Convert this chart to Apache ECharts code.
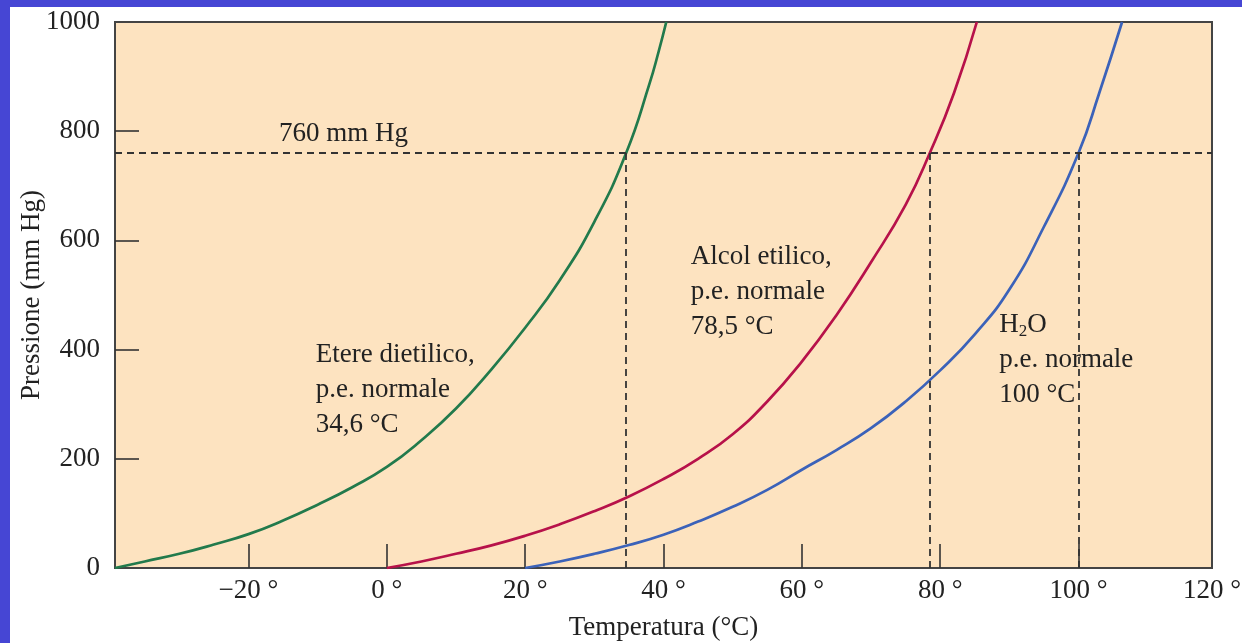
<!DOCTYPE html>
<html>
<head>
<meta charset="utf-8">
<script src="https://cdn.jsdelivr.net/npm/echarts@6/dist/echarts.min.js"></script>
<style>
  html, body { margin: 0; padding: 0; background: #fff; }
  #frame {
    position: relative; width: 1242px; height: 643px; box-sizing: border-box;
    border-top: 7px solid #4646d4; border-left: 10px solid #4646d4; background: #fff;
  }
  #chart-container { position: absolute; left: 0; top: 0; width: 1232px; height: 636px; }
</style>
</head>
<body>
<div id="frame"><div id="chart-container"></div></div>
<script>
// temperature (°C) / pressure (mm Hg)
const etereT = [-39.3, -35, -30, -25, -20, -15, -10, -5, 0, 5, 10, 15, 20, 25, 30, 34.6, 38, 39.3, 40.4];
const etereP = [0, 12, 26, 43, 62, 87, 116, 148, 185, 234, 292, 362, 440, 527, 634, 760, 888, 946, 1000];
const alcolT = [0, 5, 10, 15, 20, 25, 30, 35, 40, 45, 50, 55, 60, 65, 70, 75, 78.5, 82, 85.3];
const alcolP = [0, 12, 26, 41, 59, 80, 104, 131, 163, 200, 245, 305, 378, 463, 560, 665, 760, 870, 1000];
const acquaT = [20, 25, 30, 35, 40, 45, 50, 55, 60, 65, 70, 75, 80, 85, 90, 95, 100, 103, 106.3];
const acquaP = [0, 12, 26, 42, 61, 85, 112, 143, 180, 216, 256, 305, 362, 428, 510, 625, 760, 870, 1000];

const boilingPoints = [34.6, 78.5, 100];
const atmPressure = 760;

const xTicks = [-20, 0, 20, 40, 60, 80, 100];
const xLabels = [-20, 0, 20, 40, 60, 80, 100, 120];
const yTicks = [200, 400, 600, 800];
const xMin = -39.3, xMax = 119.3;

var dom = document.getElementById("chart-container");
var myChart = echarts.init(dom, null, { renderer: "canvas" });

const font = "'Liberation Serif', 'DejaVu Serif', serif";
const txt = "#222";
const fs = 27;

function pairs(xs, ys) {
  return xs.map((x, i) => [x, ys[i]]);
}

function curve(name, xs, ys, color) {
  return {
    name: name,
    type: "line",
    data: pairs(xs, ys),
    showSymbol: false,
    smooth: 0.5,
    lineStyle: { color: color, width: 2.7 },
    z: 3,
    silent: true,
  };
}

function note(coord, text) {
  return {
    coord: coord,
    symbol: "circle",
    symbolSize: 1,
    itemStyle: { color: "rgba(0,0,0,0)" },
    label: {
      show: true,
      position: [0, 0],
      align: "left",
      verticalAlign: "top",
      formatter: text,
      fontFamily: font,
      fontSize: fs,
      lineHeight: 35,
      color: txt,
      rich: {
        sub: { fontFamily: font, fontSize: 17, color: txt, padding: [12, 0, 0, 0] },
      },
    },
  };
}

const dash = { type: [7, 5], color: "#333", width: 1.8 };

var option = {
  animation: false,
  grid: {
    left: 105, top: 15, right: 30, bottom: 75,
    outerBoundsMode: "none",
    containLabel: false,
    show: true,
    backgroundColor: "#fde3c0",
    borderColor: "#444",
    borderWidth: 2,
  },
  xAxis: {
    type: "value",
    min: xMin,
    max: xMax,
    name: "Temperatura (°C)",
    nameLocation: "middle",
    nameGap: 46,
    nameMoveOverlap: false,
    nameTextStyle: { fontFamily: font, fontSize: fs, color: txt },
    axisLine: { show: true, onZero: false, lineStyle: { color: "#444", width: 2 } },
    axisTick: {
      show: true, inside: true, length: 24,
      customValues: xTicks,
      lineStyle: { color: "#333", width: 1.6 },
    },
    axisLabel: {
      customValues: xLabels.map((v) => Math.min(Math.max(v, xMin), xMax)),
      margin: 9,
      fontFamily: font, fontSize: fs, color: txt,
      formatter: function (v) {
        let best = xLabels.reduce((a, b) => (Math.abs(b - v) < Math.abs(a - v) ? b : a));
        return (best < 0 ? "\u2212" + -best : best) + " °";
      },
    },
    splitLine: { show: false },
  },
  yAxis: {
    type: "value",
    min: 0,
    max: 1000,
    interval: 200,
    name: "Pressione (mm Hg)",
    nameLocation: "middle",
    nameGap: 70,
    nameMoveOverlap: false,
    nameTextStyle: { fontFamily: font, fontSize: fs, color: txt },
    axisLine: { show: true, onZero: false, lineStyle: { color: "#444", width: 2 } },
    axisTick: {
      show: true, inside: true, length: 24,
      customValues: yTicks,
      lineStyle: { color: "#333", width: 1.6 },
    },
    axisLabel: {
      margin: 15, fontFamily: font, fontSize: fs, color: txt,
      formatter: (v) => String(v),
    },
    splitLine: { show: false },
  },
  series: [
    {
      name: "guide",
      type: "line",
      data: [],
      silent: true,
      markLine: {
        silent: true,
        symbol: "none",
        label: { show: false },
        lineStyle: dash,
        data: [{ yAxis: atmPressure }].concat(
          boilingPoints.map((t) => [{ coord: [t, 0] }, { coord: [t, atmPressure] }])
        ),
      },
      markPoint: {
        silent: true,
        data: [
          note([-15.5, 826], "760 mm Hg"),
          note([-10.2, 421], "Etere dietilico,\np.e. normale\n34,6 °C"),
          note([44.0, 600], "Alcol etilico,\np.e. normale\n78,5 °C"),
          note([88.6, 476], "H{sub|2}O\np.e. normale\n100 °C"),
        ],
      },
    },
    curve("Etere dietilico", etereT, etereP, "#227a4c"),
    curve("Alcol etilico", alcolT, alcolP, "#b7124a"),
    curve("H2O", acquaT, acquaP, "#3b62b9"),
  ],
};

if (option && typeof option === "object") {
  myChart.setOption(option);
}

window.addEventListener("resize", myChart.resize);
</script>
</body>
</html>
